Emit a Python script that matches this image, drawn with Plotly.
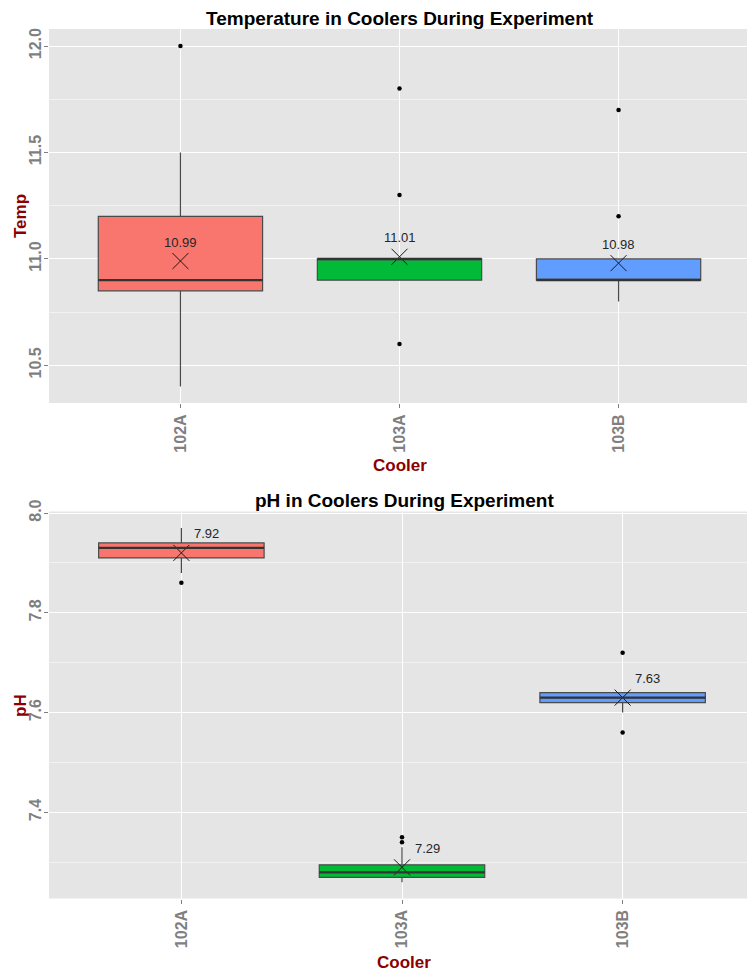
import plotly.graph_objects as go

# ---------------- data ----------------
coolers = ["102A", "103A", "103B"]
colors = ["#F8766D", "#00BA38", "#619CFF"]

temp_q1 = [10.85, 10.90, 10.90]
temp_median = [10.90, 11.00, 10.90]
temp_q3 = [11.20, 11.00, 11.00]
temp_lower = [10.40, 10.90, 10.80]
temp_upper = [11.50, 11.00, 11.00]
temp_mean = [10.99, 11.01, 10.98]
temp_outliers = [[12.0], [11.8, 11.3, 10.6], [11.7, 11.2]]

ph_q1 = [7.910, 7.270, 7.620]
ph_median = [7.930, 7.280, 7.630]
ph_q3 = [7.940, 7.295, 7.640]
ph_lower = [7.880, 7.260, 7.600]
ph_upper = [7.970, 7.330, 7.640]
ph_mean = [7.92, 7.29, 7.63]
ph_outliers = [[7.86], [7.34, 7.35], [7.72, 7.56]]

OFF = 8  # page body margin
W, H = 755 - OFF, 975 - OFF
FONT = "Liberation Sans, Arial, sans-serif"
BOXW = 0.75


def sx(px):
    return (px - OFF) / W


def sy(py):
    return 1 - (py - OFF) / H


fig = go.Figure()
shapes = []
annotations = []


def add_panel(xa, ya, q1, med, q3, lo, up, mean, outl, label_dx, label_dy):
    for i, c in enumerate(coolers):
        fig.add_trace(go.Box(
            x=[c], q1=[q1[i]], median=[med[i]], q3=[q3[i]],
            lowerfence=[lo[i]], upperfence=[up[i]],
            width=BOXW, whiskerwidth=0, boxpoints=False,
            fillcolor=colors[i], line=dict(color="#4a4a4a", width=1.2),
            xaxis=xa, yaxis=ya, hoverinfo="skip",
        ))
        shapes.append(dict(type="line", xref=xa, yref=ya,
                           x0=i - BOXW / 2, x1=i + BOXW / 2,
                           y0=med[i], y1=med[i],
                           line=dict(color="#333333", width=2.2)))
        fig.add_trace(go.Scatter(
            x=[c] * len(outl[i]), y=outl[i], mode="markers",
            marker=dict(color="black", size=4.5),
            xaxis=xa, yaxis=ya, hoverinfo="skip",
        ))
    fig.add_trace(go.Scatter(
        x=coolers, y=mean, mode="markers",
        marker=dict(symbol="x-thin-open", size=16, color="#1a1a1a",
                    line=dict(color="#1a1a1a", width=1)),
        xaxis=xa, yaxis=ya, hoverinfo="skip",
    ))
    for i, c in enumerate(coolers):
        annotations.append(dict(
            x=c, y=mean[i], xref=xa, yref=ya, text=f"{mean[i]:.2f}",
            showarrow=False, xshift=label_dx, yshift=label_dy,
            font=dict(family=FONT, size=13, color="#262626"),
        ))


add_panel("x", "y", temp_q1, temp_median, temp_q3, temp_lower, temp_upper,
          temp_mean, temp_outliers, 0, 19)
add_panel("x2", "y2", ph_q1, ph_median, ph_q3, ph_lower, ph_upper,
          ph_mean, ph_outliers, 25, 19)

tickfont = dict(family=FONT, size=16, color="#7F7F7F", weight="bold")
common_x = dict(type="category", range=[-0.6, 2.6], showgrid=True,
                gridcolor="white", gridwidth=1.2, tickangle=-90,
                ticks="outside", ticklen=4, tickcolor="#7F7F7F",
                tickfont=tickfont, zeroline=False, fixedrange=True,
                automargin=False)
common_y = dict(showgrid=True, gridcolor="white", gridwidth=1.2,
                tickangle=-90, ticks="outside", ticklen=4,
                tickcolor="#7F7F7F", tickfont=tickfont, zeroline=False,
                tickformat=".1f", fixedrange=True, automargin=False,
                ticklabelstandoff=-3)

fig.update_layout(
    width=W, height=H, margin=dict(l=0, r=0, t=0, b=0, autoexpand=False),
    paper_bgcolor="white", plot_bgcolor="#E5E5E5", showlegend=False,
    xaxis=dict(common_x, domain=[sx(49), sx(750)], anchor="y"),
    yaxis=dict(common_y, domain=[sy(403), sy(29)],
               range=[10.323, 12.08], tick0=10.5, dtick=0.5, anchor="x",
               minor=dict(dtick=0.25, tick0=10.5, showgrid=True,
                          gridcolor="#F2F2F2", gridwidth=0.6)),
    xaxis2=dict(common_x, domain=[sx(49), 1.0], anchor="y2"),
    yaxis2=dict(common_y, domain=[sy(898.5), sy(511.5)],
                range=[7.2275, 8.003], tick0=7.4, dtick=0.2, anchor="x2",
                minor=dict(dtick=0.1, tick0=7.4, showgrid=True,
                           gridcolor="#F2F2F2", gridwidth=0.6)),
)

title_font = dict(family=FONT, size=19, color="black", weight="bold")
axis_font = dict(family=FONT, size=17, color="#8B0000", weight="bold")

annotations += [
    dict(text="Temperature in Coolers During Experiment", x=sx(400),
         y=sy(18), xref="paper", yref="paper", showarrow=False,
         font=title_font, xanchor="center", yanchor="middle"),
    dict(text="pH in Coolers During Experiment", x=sx(405),
         y=sy(500), xref="paper", yref="paper", showarrow=False,
         font=title_font, xanchor="center", yanchor="middle"),
    dict(text="Temp", x=sx(20), y=sy(216), xref="paper",
         yref="paper", showarrow=False, textangle=-90, font=axis_font,
         xanchor="center", yanchor="middle"),
    dict(text="pH", x=sx(20), y=sy(705), xref="paper",
         yref="paper", showarrow=False, textangle=-90, font=axis_font,
         xanchor="center", yanchor="middle"),
    dict(text="Cooler", x=sx(400), y=sy(466), xref="paper",
         yref="paper", showarrow=False, font=axis_font,
         xanchor="center", yanchor="middle"),
    dict(text="Cooler", x=sx(404), y=sy(962), xref="paper",
         yref="paper", showarrow=False, font=axis_font,
         xanchor="center", yanchor="middle"),
]

fig.update_layout(shapes=shapes, annotations=annotations)
fig.write_html("out.html")
